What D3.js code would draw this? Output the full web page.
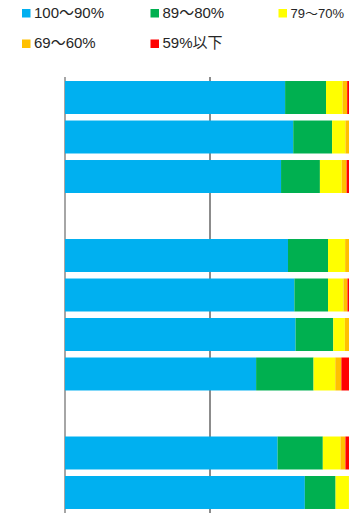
<!DOCTYPE html>
<html>
<head>
<meta charset="utf-8">
<script src="https://cdn.jsdelivr.net/npm/d3@7"></script>
<style>
  body { margin: 0; background: #fff; }
  svg { display: block; }
  text { font-family: "Liberation Sans", "Noto Sans CJK JP", sans-serif; fill: #262626; }
</style>
</head>
<body>
<svg width="349" height="513"></svg>
<script>
// rows of the chart, top to bottom ("gap" rows are empty)
var rows = ["r1", "r2", "r3", "gap1", "r4", "r5", "r6", "r7", "gap2", "r8", "r9"];
var seriesNames = ["100～90%", "89～80%", "79～70%", "69～60%", "59%以下"];
var seriesColors = ["#00B0F0", "#00B050", "#FFFF00", "#FFC000", "#FF0000"];

// percentage of each band per bar
var band100_90 = [75.9, 78.7, 74.5, null, 76.9, 79.1, 79.5, 65.9, null, 73.3, 82.7];
var band89_80  = [14.1, 13.4, 13.4, null, 13.8, 11.6, 13.0, 19.8, null, 15.6, 10.6];
var band79_70  = [5.7,  4.6,  7.5,  null, 5.9,  5.3,  4.0,  7.5,  null, 6.1,  4.6];
var band69_60  = [1.6,  2.5,  1.7,  null, 2.6,  1.4,  2.7,  2.1,  null, 1.7,  1.4];
var band59     = [2.7,  0.8,  2.9,  null, 0.8,  2.6,  0.8,  4.7,  null, 3.3,  0.7];

var gridTicks = [0, 50];

var svg = d3.select("svg");

var data = rows.map(function(r, i) {
  return {
    row: r,
    values: [band100_90[i], band89_80[i], band79_70[i], band69_60[i], band59[i]]
  };
}).filter(function(d) { return d.values[0] !== null; });

var x = d3.scaleLinear().domain([0, 100]).range([65, 355]);
var y = d3.scaleBand().domain(rows).range([74.5, 515.5]).paddingInner(0.165).paddingOuter(0.165);

// gridlines sit behind the bars
svg.append("g").selectAll("line")
  .data(gridTicks)
  .enter().append("line")
  .attr("x1", function(t) { return x(t); })
  .attr("x2", function(t) { return x(t); })
  .attr("y1", 77)
  .attr("y2", 513)
  .attr("stroke", function(t) { return t === 0 ? "#a6a6a6" : "#8c8c8c"; })
  .attr("stroke-width", 2);

// bars
data.forEach(function(d) {
  var acc = 0;
  var segs = d.values.map(function(v, k) {
    var s = {x0: acc, x1: acc + v, k: k};
    acc += v;
    return s;
  });
  svg.append("g").selectAll("rect")
    .data(segs)
    .enter().append("rect")
    .attr("x", function(s) { return x(s.x0); })
    .attr("width", function(s) { return x(s.x1) - x(s.x0); })
    .attr("y", y(d.row))
    .attr("height", y.bandwidth())
    .attr("fill", function(s) { return seriesColors[s.k]; });
});

// legend
var legendPos = [
  {x: 22, y: 9, size: 15},
  {x: 150.5, y: 9, size: 15},
  {x: 278.5, y: 9, size: 13},
  {x: 22, y: 39.5, size: 15},
  {x: 150.5, y: 39.5, size: 15}
];

var legend = svg.append("g").selectAll("g")
  .data(seriesNames)
  .enter().append("g")
  .attr("transform", function(d, i) { return "translate(" + legendPos[i].x + "," + legendPos[i].y + ")"; });

legend.append("rect")
  .attr("width", 8.5)
  .attr("height", 8.5)
  .attr("fill", function(d, i) { return seriesColors[i]; });

legend.append("text")
  .attr("x", 12)
  .attr("y", 8.7)
  .style("font-size", function(d, i) { return legendPos[i].size + "px"; })
  .text(function(d) { return d; });
</script>
</body>
</html>
